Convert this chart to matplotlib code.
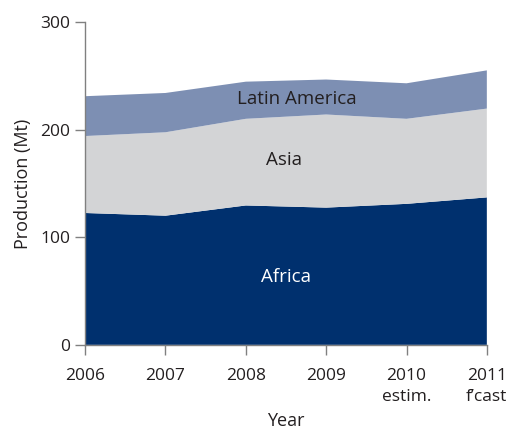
import matplotlib
matplotlib.use('Agg')
import matplotlib.pyplot as plt

plt.rcParams['font.family'] = ['Open Sans', 'DejaVu Sans']

years = [2006, 2007, 2008, 2009, 2010, 2011]
year_labels = ['2006', '2007', '2008', '2009', '2010\nestim.', '2011\nf\u2019cast']
africa = [122.5, 120, 129.5, 127.5, 131, 137]
asia = [71.5, 77.5, 80.5, 86.5, 79, 82.5]
latin_america = [37, 36.5, 34.5, 32.5, 33, 35.5]

colors = ['#00306e', '#d3d4d6', '#7d8fb3']
text = '#231f20'

fig = plt.figure(figsize=(5.13, 4.30), dpi=100)
ax = fig.add_axes([0.166, 0.198, 0.783, 0.751])

ax.stackplot(years, africa, asia, latin_america, colors=colors, linewidth=0)

ax.text(2008.64, 228, 'Latin America', ha='center', va='center', fontsize=13.5, color=text)
ax.text(2008.48, 172, 'Asia', ha='center', va='center', fontsize=13.5, color=text)
ax.text(2008.5, 63, 'Africa', ha='center', va='center', fontsize=13.5, color='white')

ax.set_xlim(2006, 2011)
ax.set_ylim(0, 300)
ax.set_xticks(years)
ax.set_xticklabels(year_labels, linespacing=1.4)
ax.set_yticks([0, 100, 200, 300])
ax.tick_params(labelsize=12.5, colors='#808080', labelcolor=text, length=7, width=1)
ax.tick_params(axis='x', pad=10)
for s in ['top', 'right']:
    ax.spines[s].set_visible(False)
for s in ['left', 'bottom']:
    ax.spines[s].set_color('#808080')
    ax.spines[s].set_linewidth(1)
ax.set_xlabel('Year', fontsize=13, color=text, labelpad=5)
ax.set_ylabel('Production (Mt)', fontsize=13, color=text, labelpad=6)

fig.savefig('out.png', dpi=100)
